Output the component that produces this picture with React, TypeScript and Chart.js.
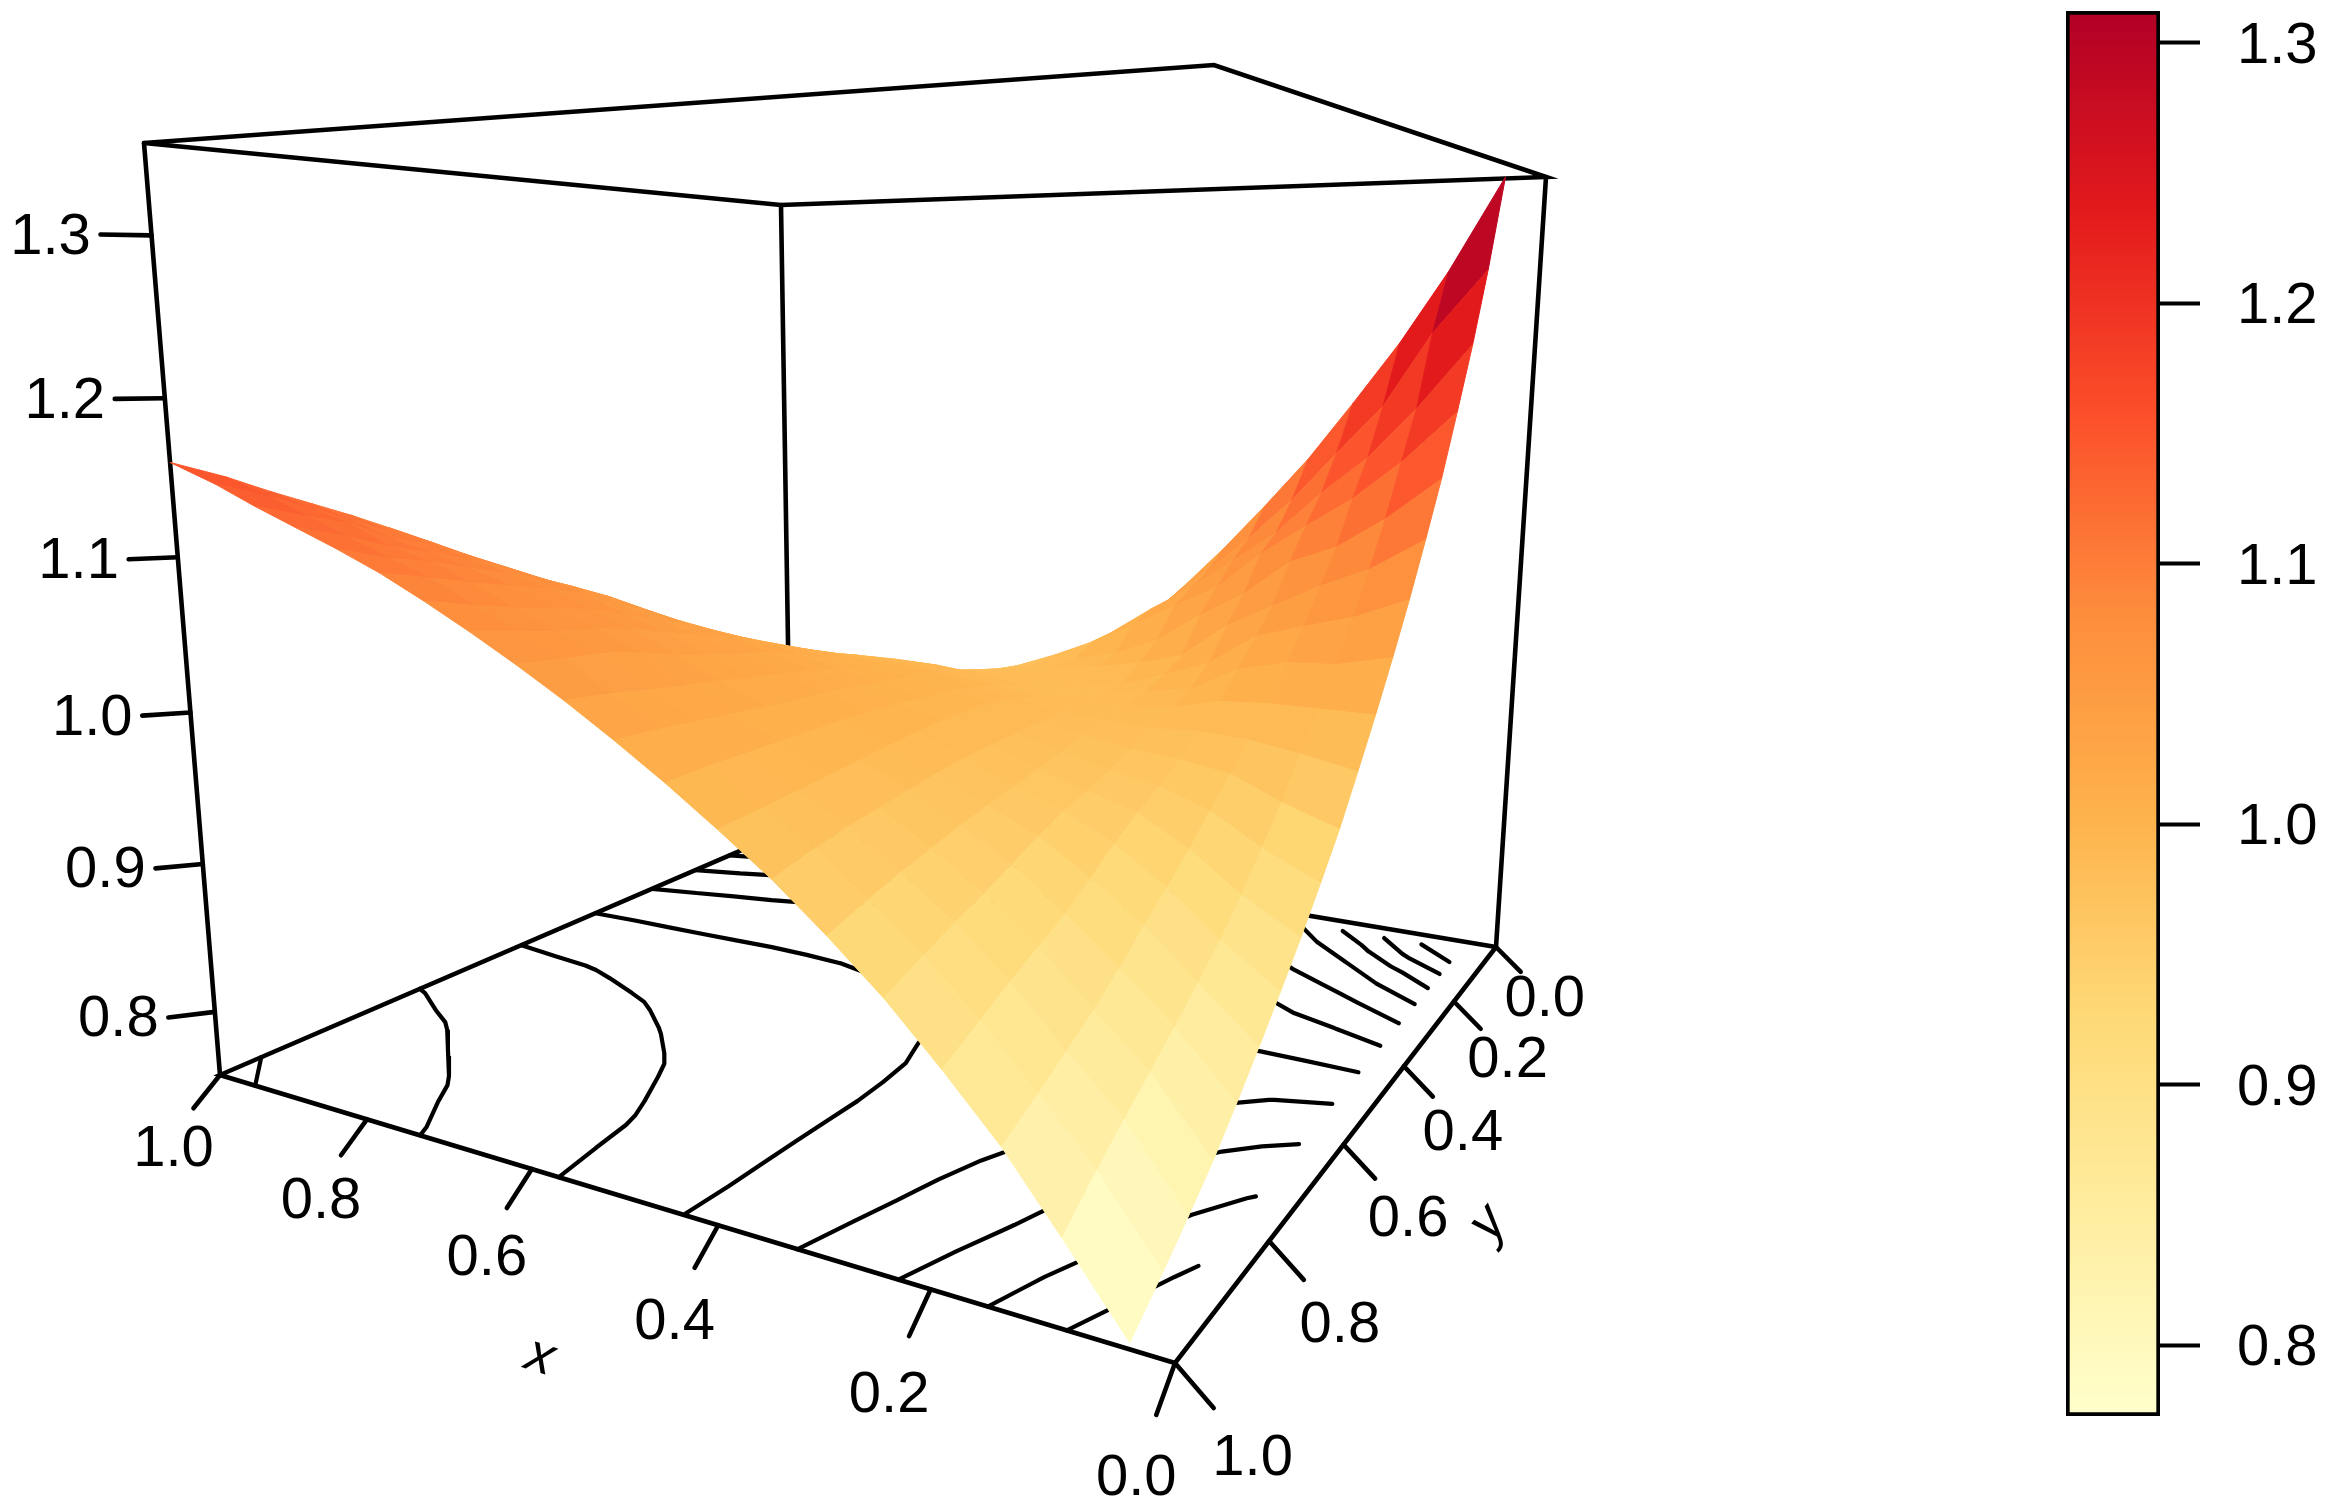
import { useEffect, useRef } from "react";
import { Chart, registerables } from "chart.js";

Chart.register(...registerables);

// grid of the surface, same values on both floor axes
const gridValues = [0.035, 0.09, 0.14, 0.19, 0.24, 0.29, 0.34, 0.39, 0.44, 0.49, 0.54, 0.59, 0.64, 0.69, 0.74, 0.79, 0.84, 0.89, 0.94, 1.0];

// upper triangle of the surface heights: row i holds y = grid[i] .. 1 at x = grid[i]
const surfaceRows = [
  [1.355, 1.286, 1.232, 1.185, 1.14, 1.101, 1.064, 1.03, 0.998, 0.968, 0.939, 0.914, 0.89, 0.868, 0.847, 0.827, 0.808, 0.792, 0.777, 0.76],
  [1.24, 1.185, 1.148, 1.11, 1.078, 1.049, 1.022, 0.998, 0.975, 0.951, 0.93, 0.91, 0.892, 0.877, 0.863, 0.849, 0.836, 0.822, 0.804],
  [1.148, 1.12, 1.088, 1.064, 1.04, 1.02, 0.998, 0.98, 0.965, 0.949, 0.933, 0.918, 0.905, 0.89, 0.877, 0.866, 0.855, 0.843],
  [1.098, 1.075, 1.047, 1.03, 1.012, 0.996, 0.982, 0.97, 0.96, 0.951, 0.94, 0.928, 0.916, 0.907, 0.898, 0.888, 0.876],
  [1.049, 1.03, 1.008, 0.995, 0.988, 0.98, 0.973, 0.966, 0.96, 0.955, 0.948, 0.94, 0.932, 0.925, 0.917, 0.907],
  [1.005, 0.996, 0.99, 0.986, 0.982, 0.978, 0.974, 0.97, 0.966, 0.962, 0.958, 0.953, 0.948, 0.942, 0.934],
  [0.985, 0.984, 0.984, 0.984, 0.983, 0.982, 0.981, 0.98, 0.978, 0.975, 0.972, 0.969, 0.965, 0.959],
  [0.98, 0.985, 0.99, 0.993, 0.994, 0.994, 0.993, 0.991, 0.989, 0.987, 0.985, 0.983, 0.981],
  [0.99, 0.994, 0.998, 0.999, 1.001, 1.002, 1.003, 1.003, 1.003, 1.003, 1.003, 1.002],
  [1.003, 1.004, 1.006, 1.009, 1.011, 1.012, 1.014, 1.016, 1.018, 1.02, 1.0215],
  [1.007, 1.012, 1.017, 1.02, 1.023, 1.027, 1.03, 1.033, 1.037, 1.04],
  [1.02, 1.026, 1.03, 1.035, 1.04, 1.047, 1.052, 1.054, 1.057],
  [1.035, 1.04, 1.047, 1.054, 1.059, 1.062, 1.067, 1.073],
  [1.048, 1.056, 1.064, 1.069, 1.074, 1.08, 1.088],
  [1.068, 1.075, 1.081, 1.087, 1.094, 1.102],
  [1.083, 1.09, 1.098, 1.104, 1.114],
  [1.098, 1.105, 1.115, 1.125],
  [1.118, 1.126, 1.136],
  [1.137, 1.148],
  [1.16],
];

const contourLevels = [0.8, 0.85, 0.9, 0.95, 1.0, 1.05, 1.1, 1.15, 1.2, 1.25, 1.3];
const xTicks = [0, 0.2, 0.4, 0.6, 0.8, 1];
const yTicks = [0, 0.2, 0.4, 0.6, 0.8, 1];
const zTicks = [0.8, 0.9, 1.0, 1.1, 1.2, 1.3];
const colorTicks = [0.8, 0.9, 1.0, 1.1, 1.2, 1.3];
const palette = ["#ffffcc", "#ffeda0", "#fed976", "#feb24c", "#fd8d3c", "#fc4e2a", "#e31a1c", "#b10026"];

const zMin = 0.7566;
const zMax = 1.3556;
const colorMin = 0.7728;
const colorMax = 1.3121;

// camera: where the floor and the lid of the box land on the page,
// corners in the order (0,0) (1,0) (1,1) (0,1)
const floorQuad = [[1496, 947], [791, 829], [220, 1075], [1175, 1363]];
const lidQuad = [[1546, 177], [781, 205], [144, 143], [1214, 65]];
const verticalVanish = 13470; // page y where the upright edges of the box would meet

const FONT = '"Liberation Sans", Arial, sans-serif';

function homography(q: number[][]) {
  const [[x0, y0], [x1, y1], [x2, y2], [x3, y3]] = q;
  const sx = x0 - x1 + x2 - x3;
  const sy = y0 - y1 + y2 - y3;
  const dx1 = x1 - x2;
  const dx2 = x3 - x2;
  const dy1 = y1 - y2;
  const dy2 = y3 - y2;
  const det = dx1 * dy2 - dx2 * dy1;
  const g = (sx * dy2 - dx2 * sy) / det;
  const h = (dx1 * sy - sx * dy1) / det;
  return (u: number, v: number) => {
    const w = 1 + g * u + h * v;
    return {
      x: ((x1 - x0 + g * x1) * u + (x3 - x0 + h * x3) * v + x0) / w,
      y: ((y1 - y0 + g * y1) * u + (y3 - y0 + h * y3) * v + y0) / w,
      w,
    };
  };
}

const floorMap = homography(floorQuad);
const lidMap = homography(lidQuad);

function project(u: number, v: number, z: number) {
  const t = (z - zMin) / (zMax - zMin);
  const a = floorMap(u, v);
  const b = lidMap(u, v);
  const m = (verticalVanish - a.y) / (a.y - b.y);
  const k = m / (m + 1);
  const f = (t * k) / (1 - t + t * k);
  return { x: a.x + (b.x - a.x) * f, y: a.y + (b.y - a.y) * f };
}

function height(i: number, j: number) {
  return i <= j ? surfaceRows[i][j - i] : surfaceRows[j][i - j];
}

function hexToRgb(hex: string) {
  return [1, 3, 5].map((p) => parseInt(hex.slice(p, p + 2), 16));
}

function colorFor(z: number) {
  const s = Math.min(0.9999, Math.max(0, (z - colorMin) / (colorMax - colorMin))) * (palette.length - 1);
  const k = Math.floor(s);
  const a = hexToRgb(palette[k]);
  const b = hexToRgb(palette[k + 1]);
  const c = a.map((n, m) => Math.round(n + (b[m] - n) * (s - k)));
  return `rgb(${c[0]},${c[1]},${c[2]})`;
}

function line(points: { x: number; y: number }[], width: number) {
  return {
    data: points,
    showLine: true,
    borderColor: "#000",
    borderWidth: width,
    borderCapStyle: "round" as const,
    pointRadius: 0,
    fill: false,
  };
}

function surfaceDatasets() {
  const cells = [];
  const n = gridValues.length;
  for (let i = 0; i < n - 1; i++) {
    for (let j = 0; j < n - 1; j++) {
      const u0 = gridValues[i];
      const u1 = gridValues[i + 1];
      const v0 = gridValues[j];
      const v1 = gridValues[j + 1];
      const corners = [
        project(u0, v0, height(i, j)),
        project(u1, v0, height(i + 1, j)),
        project(u1, v1, height(i + 1, j + 1)),
        project(u0, v1, height(i, j + 1)),
      ];
      const mean = (height(i, j) + height(i + 1, j) + height(i + 1, j + 1) + height(i, j + 1)) / 4;
      cells.push({ depth: floorMap((u0 + u1) / 2, (v0 + v1) / 2).w, corners, color: colorFor(mean) });
    }
  }
  // dataset 0 is painted last, so the nearest cells go first
  cells.sort((a, b) => a.depth - b.depth);
  return cells.map((c) => ({
    data: [...c.corners, c.corners[0]],
    showLine: true,
    fill: "shape",
    backgroundColor: c.color,
    borderColor: c.color,
    borderWidth: 1,
    pointRadius: 0,
  }));
}

function contourDataset() {
  const pts: { x: number; y: number }[] = [];
  const n = gridValues.length;
  for (const level of contourLevels) {
    for (let i = 0; i < n - 1; i++) {
      for (let j = 0; j < n - 1; j++) {
        const c = [
          [i, j],
          [i + 1, j],
          [i + 1, j + 1],
          [i, j + 1],
        ];
        const hits: { x: number; y: number }[] = [];
        for (let e = 0; e < 4; e++) {
          const [a, b] = [c[e], c[(e + 1) % 4]];
          const za = height(a[0], a[1]);
          const zb = height(b[0], b[1]);
          if (za < level !== zb < level) {
            const t = (level - za) / (zb - za);
            const u = gridValues[a[0]] + (gridValues[b[0]] - gridValues[a[0]]) * t;
            const v = gridValues[a[1]] + (gridValues[b[1]] - gridValues[a[1]]) * t;
            hits.push(project(u, v, zMin));
          }
        }
        for (let h = 0; h + 1 < hits.length; h += 2) {
          pts.push(hits[h], hits[h + 1], { x: NaN, y: NaN });
        }
      }
    }
  }
  return line(pts, 4.2);
}

const range = zMax - zMin;
const xTickEnd = (x: number) => project(x, 1.033, zMin - 0.024 * range);
const yTickEnd = (y: number) => project(-0.03, y, zMin - 0.028 * range);
const zTickEnd = (z: number) => project(1.027, 1.032, z);

function boxDatasets() {
  const f = (u: number, v: number) => project(u, v, zMin);
  const t = (u: number, v: number) => project(u, v, zMax);
  const out = [
    line([t(1, 1), t(1, 0), t(0, 0), t(0, 1), t(1, 1)], 4.6),
    line([f(1, 1), t(1, 1)], 4.6),
    line([f(1, 0), t(1, 0)], 4.6),
    line([f(0, 0), t(0, 0)], 4.6),
    line([f(0, 0), f(0, 1), f(1, 1), f(1, 0), f(0, 0)], 4.6),
  ];
  for (const x of xTicks) out.push(line([f(x, 1), xTickEnd(x)], 4.6));
  for (const y of yTicks) out.push(line([f(0, y), yTickEnd(y)], 4.6));
  for (const z of zTicks) out.push(line([project(1, 1, z), zTickEnd(z)], 4.6));
  return out;
}

const axisText = {
  id: "axisText",
  afterDatasetsDraw(chart: any) {
    const { ctx, scales } = chart;
    const put = (text: string, x: number, y: number, rot = 0, font = `58px ${FONT}`) => {
      ctx.save();
      ctx.translate(scales.x.getPixelForValue(x), scales.y.getPixelForValue(y));
      ctx.rotate(rot);
      ctx.font = font;
      ctx.fillStyle = "#000";
      ctx.textAlign = "center";
      ctx.textBaseline = "middle";
      ctx.fillText(text, 0, 0);
      ctx.restore();
    };
    for (const x of xTicks) {
      const p = xTickEnd(x);
      put(x.toFixed(1), p.x - 20, p.y + 42 + 22 * (1 - x));
    }
    for (const y of yTicks) {
      const p = yTickEnd(y);
      put(y.toFixed(1), p.x + 24 + 15 * y, p.y + 28 + 23 * y);
    }
    for (const z of zTicks) {
      const p = zTickEnd(z);
      put(z.toFixed(1), p.x - 50, p.y + 3);
    }
    const xm = project(0.5, 1, zMin);
    put("x", xm.x - 82, xm.y + 161, 0.3, `italic 54px ${FONT}`);
    const ym = project(0, 0.5, zMin);
    put("y", ym.x + 113, ym.y + 120, -0.9, `italic 54px ${FONT}`);
  },
};

function Surface() {
  const canvasRef = useRef<HTMLCanvasElement | null>(null);

  useEffect(() => {
    if (!canvasRef.current) return;
    const chart = new Chart(canvasRef.current, {
      type: "scatter",
      data: { datasets: [...surfaceDatasets(), contourDataset(), ...boxDatasets()] as any },
      options: {
        animation: false,
        responsive: false,
        devicePixelRatio: 1,
        events: [],
        layout: { padding: 0 },
        plugins: { legend: { display: false }, tooltip: { enabled: false } },
        scales: {
          x: { type: "linear", display: false, min: 0, max: 2040 },
          y: { type: "linear", display: false, min: 0, max: 1508, reverse: true },
        },
      },
      plugins: [axisText],
    });
    return () => chart.destroy();
  }, []);

  return <canvas ref={canvasRef} width={2040} height={1508} style={{ position: "absolute", left: 0, top: 0 }} />;
}

function ColorKey() {
  const canvasRef = useRef<HTMLCanvasElement | null>(null);

  useEffect(() => {
    if (!canvasRef.current) return;
    const chart = new Chart(canvasRef.current, {
      type: "bar",
      data: {
        labels: ["z"],
        datasets: [
          {
            data: [[colorMin, colorMax]],
            backgroundColor: (c: any) => {
              const area = c.chart.chartArea;
              if (!area) return "#fff";
              const g = c.chart.ctx.createLinearGradient(0, area.bottom, 0, area.top);
              palette.forEach((col, i) => g.addColorStop(i / (palette.length - 1), col));
              return g;
            },
            borderColor: "#000",
            borderWidth: 4,
            borderSkipped: false,
            barPercentage: 1,
            categoryPercentage: 1,
          },
        ],
      },
      options: {
        animation: false,
        responsive: false,
        devicePixelRatio: 1,
        events: [],
        layout: { padding: { left: 26, top: 11, bottom: 92, right: 0 } },
        plugins: { legend: { display: false }, tooltip: { enabled: false } },
        scales: {
          x: { display: false },
          y: {
            position: "right",
            min: colorMin,
            max: colorMax,
            afterBuildTicks: (s: any) => {
              s.ticks = colorTicks.map((value) => ({ value }));
            },
            afterFit: (s: any) => {
              s.width = 183;
              s.paddingTop = 0;
              s.paddingBottom = 0;
            },
            border: { display: false },
            grid: { drawOnChartArea: false, tickLength: 40, tickColor: "#000", tickWidth: 4 },
            ticks: {
              padding: 37,
              labelOffset: 4,
              color: "#000",
              font: { family: FONT, size: 58 },
              callback: (v: any) => Number(v).toFixed(1),
            },
          },
        },
      },
    });
    return () => chart.destroy();
  }, []);

  return <canvas ref={canvasRef} width={303} height={1508} style={{ position: "absolute", left: 2040, top: 0 }} />;
}

export default function App() {
  return (
    <div style={{ position: "fixed", left: 0, top: 0, width: 2343, height: 1508, background: "#fff" }}>
      <Surface />
      <ColorKey />
    </div>
  );
}
